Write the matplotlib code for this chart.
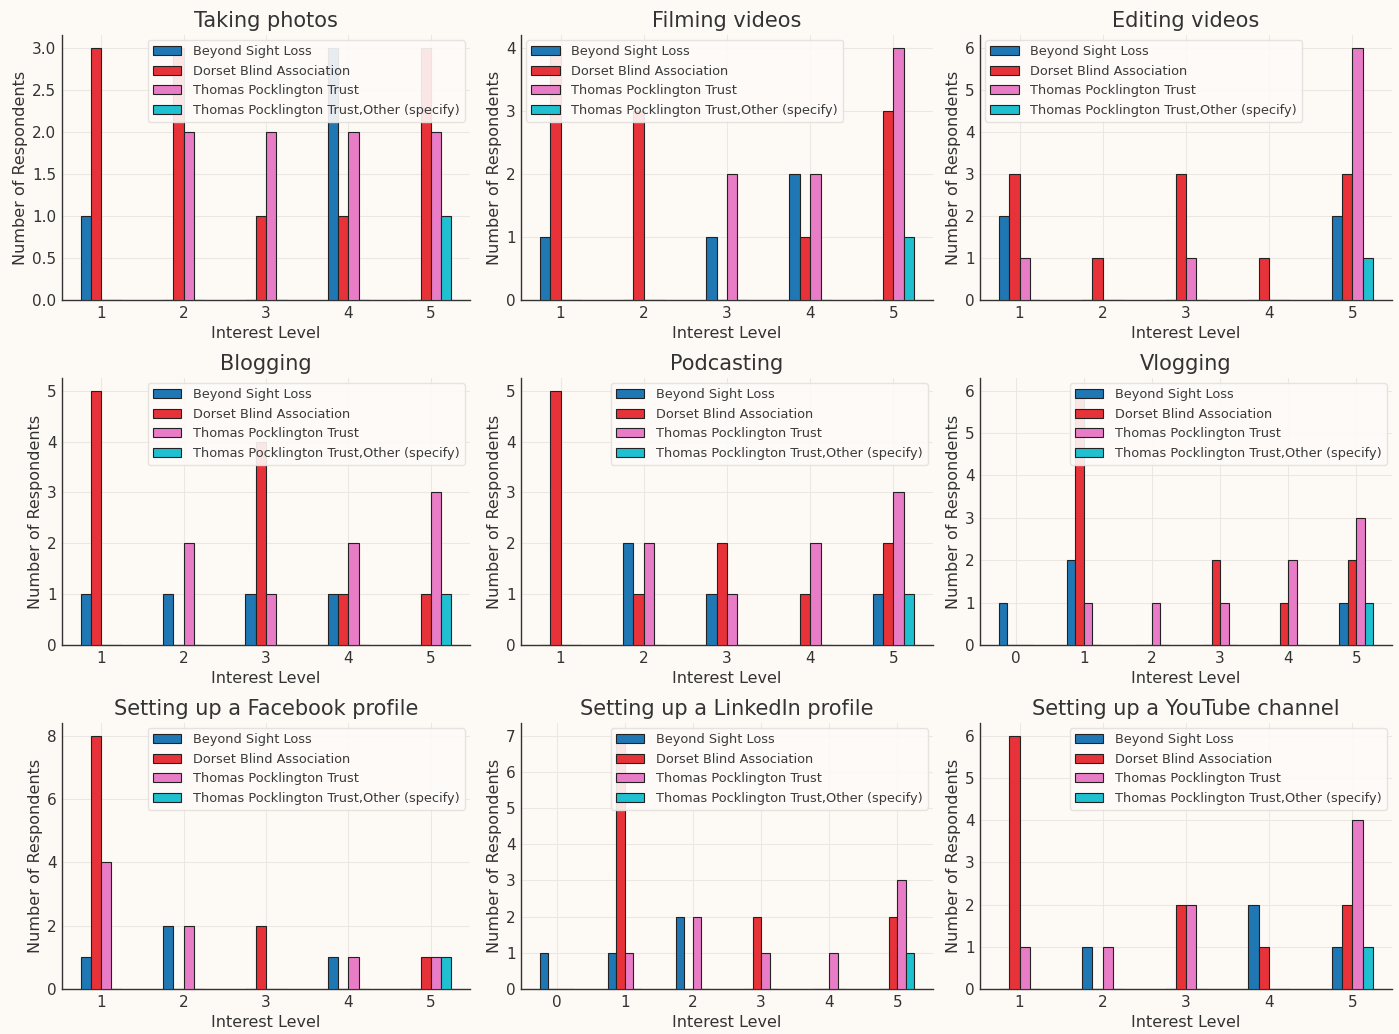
import numpy as np
import matplotlib
matplotlib.use("Agg")
import matplotlib.pyplot as plt

# Survey responses: number of respondents per interest level, by organisation
organisations = [
    "Beyond Sight Loss",
    "Dorset Blind Association",
    "Thomas Pocklington Trust",
    "Thomas Pocklington Trust,Other (specify)",
]
colors = ["#1f77b4", "#e8323a", "#e87cc6", "#1fc0cf"]

activities = [
    "Taking photos", "Filming videos", "Editing videos",
    "Blogging", "Podcasting", "Vlogging",
    "Setting up a Facebook profile", "Setting up a LinkedIn profile",
    "Setting up a YouTube channel",
]

levels_1_5 = [1, 2, 3, 4, 5]
levels_0_5 = [0, 1, 2, 3, 4, 5]

taking_photos_levels = levels_1_5
taking_photos = [
    [1, 0, 0, 3, 0],
    [3, 3, 1, 1, 3],
    [0, 2, 2, 2, 2],
    [0, 0, 0, 0, 1],
]

filming_videos_levels = levels_1_5
filming_videos = [
    [1, 0, 1, 2, 0],
    [4, 3, 0, 1, 3],
    [0, 0, 2, 2, 4],
    [0, 0, 0, 0, 1],
]

editing_videos_levels = levels_1_5
editing_videos = [
    [2, 0, 0, 0, 2],
    [3, 1, 3, 1, 3],
    [1, 0, 1, 0, 6],
    [0, 0, 0, 0, 1],
]

blogging_levels = levels_1_5
blogging = [
    [1, 1, 1, 1, 0],
    [5, 0, 4, 1, 1],
    [0, 2, 1, 2, 3],
    [0, 0, 0, 0, 1],
]

podcasting_levels = levels_1_5
podcasting = [
    [0, 2, 1, 0, 1],
    [5, 1, 2, 1, 2],
    [0, 2, 1, 2, 3],
    [0, 0, 0, 0, 1],
]

vlogging_levels = levels_0_5
vlogging = [
    [1, 2, 0, 0, 0, 1],
    [0, 6, 0, 2, 1, 2],
    [0, 1, 1, 1, 2, 3],
    [0, 0, 0, 0, 0, 1],
]

facebook_levels = levels_1_5
facebook = [
    [1, 2, 0, 1, 0],
    [8, 0, 2, 0, 1],
    [4, 2, 0, 1, 1],
    [0, 0, 0, 0, 1],
]

linkedin_levels = levels_0_5
linkedin = [
    [1, 1, 2, 0, 0, 0],
    [0, 7, 0, 2, 0, 2],
    [0, 1, 2, 1, 1, 3],
    [0, 0, 0, 0, 0, 1],
]

youtube_levels = levels_1_5
youtube = [
    [0, 1, 0, 2, 1],
    [6, 0, 2, 1, 2],
    [1, 1, 2, 0, 4],
    [0, 0, 0, 0, 1],
]

panels = [
    (taking_photos_levels, taking_photos, "upper right"),
    (filming_videos_levels, filming_videos, "upper left"),
    (editing_videos_levels, editing_videos, "upper left"),
    (blogging_levels, blogging, "upper right"),
    (podcasting_levels, podcasting, "upper right"),
    (vlogging_levels, vlogging, "upper right"),
    (facebook_levels, facebook, "upper right"),
    (linkedin_levels, linkedin, "upper right"),
    (youtube_levels, youtube, "upper right"),
]

bg = "#fdf9f5"
plt.rcParams["font.family"] = ["DejaVu Sans"]

fig = plt.figure(figsize=(13.99, 10.34), dpi=100, facecolor=bg)

W, H = 1399, 1034
col_x = [(62, 470), (521, 933), (980, 1392)]
row_y = [(35, 300), (378, 645), (723, 989)]

bar_w = 0.125
offsets = np.array([-1.5, -0.5, 0.5, 1.5]) * bar_w

for idx, (levels, counts, loc) in enumerate(panels):
    r, c = divmod(idx, 3)
    x0, x1 = col_x[c]
    yt, yb = row_y[r]
    ax = fig.add_axes([x0 / W, 1 - yb / H, (x1 - x0) / W, (yb - yt) / H])
    ax.set_facecolor(bg)
    x = np.arange(len(levels))
    for k, org in enumerate(organisations):
        ax.bar(x + offsets[k], counts[k], width=bar_w, color=colors[k],
               edgecolor="#222222", linewidth=0.8, label=org, zorder=3)
    ax.set_xticks(x)
    ax.set_xticklabels([str(v) for v in levels])
    ax.set_title(activities[idx], fontsize=15, color="#333333", pad=6)
    ax.set_xlabel("Interest Level", fontsize=11.5, color="#333333", labelpad=4)
    ax.set_ylabel("Number of Respondents", fontsize=11.5, color="#333333", labelpad=3)
    ax.tick_params(axis="both", length=0, labelsize=11, colors="#333333", pad=4)
    ax.grid(True, color="#ebe7e3", linewidth=0.8, zorder=0)
    for s in ("top", "right"):
        ax.spines[s].set_visible(False)
    for s in ("left", "bottom"):
        ax.spines[s].set_color("#333333")
        ax.spines[s].set_linewidth(1.0)
    leg = ax.legend(loc=loc, fontsize=9.3, framealpha=0.9, borderaxespad=0.4,
                    labelspacing=0.5, handlelength=2.2, handletextpad=0.9,
                    fancybox=True)
    leg.get_frame().set_facecolor("#fdfbf9")
    leg.get_frame().set_edgecolor("#e4e0dc")
    for t in leg.get_texts():
        t.set_color("#3a3a3a")

fig.savefig("out.png", dpi=100, facecolor=bg)
